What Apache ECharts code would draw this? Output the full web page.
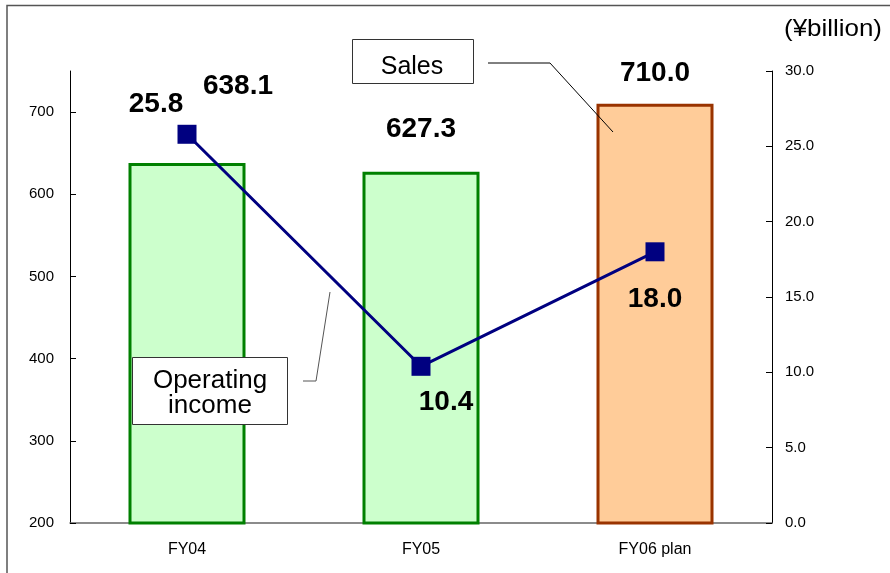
<!DOCTYPE html>
<html>
<head>
<meta charset="utf-8">
<script src="https://cdn.jsdelivr.net/npm/echarts@6/dist/echarts.min.js"></script>
<style>
html,body{margin:0;padding:0;background:#fff;}
#c{width:890px;height:573px;}
</style>
</head>
<body>
<div id="c"></div>
<script>
const categories = ['FY04', 'FY05', 'FY06 plan'];
const salesValues = [638.1, 627.3, 710.0];
const incomeValues = [25.8, 10.4, 18.0];
const leftTicks = [200, 300, 400, 500, 600, 700];
const rightTicks = [0, 5, 10, 15, 20, 25, 30];

const FONT = 'Liberation Sans, Arial, sans-serif';
const barFills = ['#CCFFCC', '#CCFFCC', '#FFCC99'];
const barBorders = ['#008000', '#008000', '#993300'];
const barLabelOffsets = [[51, -58], [0, -24], [0, -12]];
const lineLabelOffsets = [[-31, -30], [25, 36], [0, 47]];

const chart = echarts.init(document.getElementById('c'), null, {renderer: 'canvas'});

const labelStyle = {fontFamily: FONT, fontWeight: 'bold', fontSize: 28, color: '#000'};

chart.setOption({
  animation: false,
  backgroundColor: '#fff',
  grid: {left: 70, right: 118, top: 71, bottom: 50, containLabel: false},
  xAxis: {
    type: 'category',
    data: categories,
    axisLine: {lineStyle: {color: '#666', width: 1.5}},
    axisTick: {show: false},
    axisLabel: {fontFamily: FONT, fontSize: 16, color: '#000', margin: 19}
  },
  yAxis: [
    {
      type: 'value', min: 200, max: 750, interval: 50,
      splitLine: {show: false},
      axisLine: {show: true, lineStyle: {color: '#000', width: 1}},
      axisTick: {show: true, inside: true, length: 6, customValues: leftTicks, lineStyle: {color: '#000'}},
      axisLabel: {customValues: leftTicks, fontFamily: FONT, fontSize: 15, color: '#000', margin: 16}
    },
    {
      type: 'value', min: 0, max: 30, interval: 5,
      position: 'right',
      splitLine: {show: false},
      axisLine: {show: true, lineStyle: {color: '#000', width: 1}},
      axisTick: {show: true, inside: true, length: 6, customValues: rightTicks, lineStyle: {color: '#000'}},
      axisLabel: {customValues: rightTicks, fontFamily: FONT, fontSize: 15, color: '#000', margin: 13,
        formatter: v => v.toFixed(1)}
    }
  ],
  series: [
    {
      type: 'bar',
      barWidth: '50%',
      yAxisIndex: 0,
      z: 2,
      data: salesValues.map((v, i) => ({
        value: v,
        itemStyle: {color: barFills[i], borderColor: barBorders[i], borderWidth: 3},
        label: {show: true, position: 'top', offset: barLabelOffsets[i], ...labelStyle,
          formatter: p => p.value.toFixed(1)}
      }))
    },
    {
      type: 'line',
      yAxisIndex: 1,
      z: 5,
      symbol: 'rect',
      symbolSize: 19,
      lineStyle: {color: '#000080', width: 3},
      itemStyle: {color: '#000080'},
      data: incomeValues.map((v, i) => ({
        value: v,
        label: {show: true, position: 'inside', offset: lineLabelOffsets[i], ...labelStyle,
          formatter: p => p.value.toFixed(1)}
      }))
    }
  ],
  graphic: [
    {type: 'rect', shape: {x: 7, y: 5.5, width: 1000, height: 1000}, style: {fill: 'none', stroke: '#555', lineWidth: 1.5}, z: 0, silent: true},
    {type: 'text', x: 784, y: 17, scaleX: 1.08, style: {text: '(¥billion)', fontFamily: FONT, fontSize: 24, fill: '#000'}, z: 10},
    {type: 'polyline', shape: {points: [[488, 63], [550, 63], [613, 132]]}, style: {stroke: '#000', lineWidth: 1, fill: 'none'}, z: 10},
    {type: 'rect', shape: {x: 352.5, y: 39.5, width: 121, height: 44}, style: {fill: '#fff', stroke: '#333', lineWidth: 1}, z: 10},
    {type: 'text', x: 412, y: 67, style: {text: 'Sales', fontFamily: FONT, fontSize: 25, fill: '#000', align: 'center', verticalAlign: 'middle'}, z: 11},
    {type: 'polyline', shape: {points: [[303, 381], [316, 381], [330, 292]]}, style: {stroke: '#555', lineWidth: 1, fill: 'none'}, z: 10},
    {type: 'rect', shape: {x: 132.5, y: 357.5, width: 155, height: 67}, style: {fill: '#fff', stroke: '#333', lineWidth: 1}, z: 10},
    {type: 'text', x: 210, y: 394, scaleX: 1.04, originX: 0, style: {text: 'Operating\nincome', fontFamily: FONT, fontSize: 25, lineHeight: 25, fill: '#000', align: 'center', verticalAlign: 'middle'}, z: 11}
  ]
});
</script>
</body>
</html>
